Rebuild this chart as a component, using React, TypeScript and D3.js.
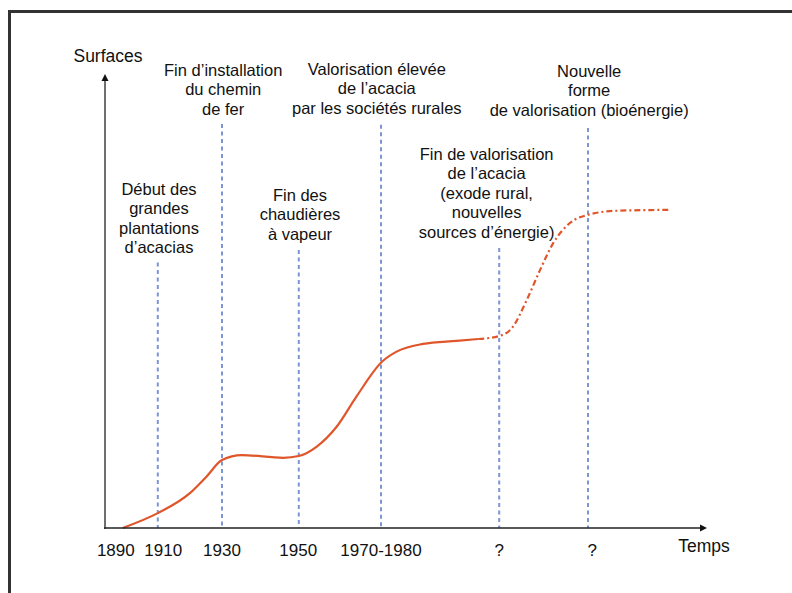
import React from "react";
import * as d3 from "d3";

// schematic time axis: abstract units 0..100 (not real years)
const tickLabels = ["1890", "1910", "1930", "1950", "1970-1980", "?", "?"];
const tickPos = [1.8, 9.7, 19.5, 32.2, 46, 65.7, 81.2];

const eventPos = [8.8, 19.5, 32.3, 46, 65.7, 80.5];
const eventTop = [59, 89.8, 61.8, 89.6, 62.2, 88.9];

const eventText = [
  ["Début des", "grandes", "plantations", "d’acacias"],
  ["Fin d’installation", "du chemin", "de fer"],
  ["Fin des", "chaudières", "à vapeur"],
  ["Valorisation élevée", "de l’acacia", "par les sociétés rurales"],
  ["Fin de valorisation", "de l’acacia", "(exode rural,", "nouvelles", "sources d’énergie)"],
  ["Nouvelle", "forme", "de valorisation (bioénergie)"],
];
const eventTextX = [9, 19.7, 32.5, 45.3, 63.6, 80.7];
const eventTextY = [195, 76, 201, 75, 160, 77];

// surface (observed part)
const knownT = [2.95, 8.8, 14.2, 16.9, 19.5, 22.8, 29.7, 32.3, 35.3, 38.6, 41.9, 46.2, 48.6, 53, 58.6, 62.2];
const knownS = [0, 3.3, 7.8, 11.4, 15.1, 16.2, 15.6, 16, 18.1, 22.5, 29.2, 37, 39.2, 40.9, 41.6, 42];

// surface (hypothetical part)
const futureT = [62.2, 65.8, 67.8, 70.3, 72.5, 74.7, 77.5, 80.5, 85.3, 94.2];
const futureS = [42, 42.7, 44.4, 50.7, 57.3, 63.3, 67.8, 69.6, 70.5, 70.7];

const W = 792;
const H = 593;
const FONT = "'Liberation Sans', Arial, Helvetica, sans-serif";

export default function App() {
  const x = d3.scaleLinear().domain([0, 100]).range([105, 705]);
  const y = d3.scaleLinear().domain([0, 100]).range([528, 78]);

  const line = d3
    .line<[number, number]>()
    .x((d) => x(d[0]))
    .y((d) => y(d[1]))
    .curve(d3.curveMonotoneX);

  const known = knownT.map((t, i) => [t, knownS[i]] as [number, number]);
  const future = futureT.map((t, i) => [t, futureS[i]] as [number, number]);

  const x0 = x(0);
  const y0 = y(0);

  return (
    <svg
      width={W}
      height={H}
      viewBox={`0 0 ${W} ${H}`}
      style={{ position: "fixed", left: 0, top: 0, background: "#fff" }}
      fontFamily={FONT}
    >
      {/* frame, cut by the page edges */}
      <rect x={9.5} y={11.5} width={820} height={620} fill="none" stroke="#333" strokeWidth={3} />

      {/* event lines */}
      {eventPos.map((p, i) => (
        <line
          key={"ev" + i}
          x1={x(p)}
          x2={x(p)}
          y1={y(eventTop[i])}
          y2={y0}
          stroke="#7e95d3"
          strokeWidth={2}
          strokeDasharray="4,3.5"
        />
      ))}

      {/* curves */}
      <path d={line(known) || ""} fill="none" stroke="#e0562b" strokeWidth={2.2} />
      <path
        d={line(future) || ""}
        fill="none"
        stroke="#e0562b"
        strokeWidth={2.2}
        strokeDasharray="6,3,2,3"
      />

      {/* axes */}
      <line x1={x0} x2={x0} y1={y0 + 1} y2={80} stroke="#6f6f6f" strokeWidth={2} />
      <path d={`M${x0 - 3.5},${81} L${x0},${74} L${x0 + 3.5},${81} Z`} fill="#111" />
      <line x1={x0 - 1} x2={700} y1={y0} y2={y0} stroke="#222" strokeWidth={1.6} />
      <path d={`M700,${y0 - 3.5} L707,${y0} L700,${y0 + 3.5} Z`} fill="#111" />

      <text x={108} y={62} textAnchor="middle" fontSize={17.5} fill="#111">
        Surfaces
      </text>
      <text x={704} y={552} textAnchor="middle" fontSize={17.5} fill="#111">
        Temps
      </text>

      {tickLabels.map((t, i) => (
        <text key={"t" + i} x={x(tickPos[i])} y={556} textAnchor="middle" fontSize={17} fill="#111">
          {t}
        </text>
      ))}

      {eventText.map((lines, i) => (
        <text key={"lab" + i} textAnchor="middle" fontSize={16.5} fill="#111">
          {lines.map((l, j) => (
            <tspan key={j} x={x(eventTextX[i])} y={eventTextY[i] + j * 19.4}>
              {l}
            </tspan>
          ))}
        </text>
      ))}
    </svg>
  );
}
